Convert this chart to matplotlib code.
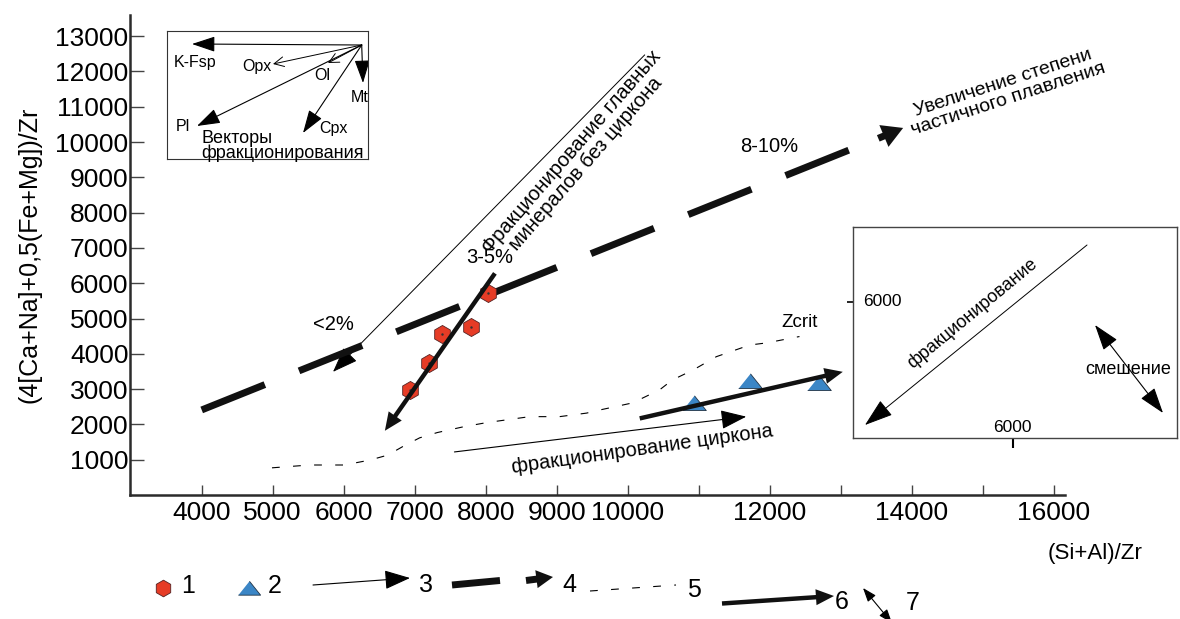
import numpy as np
import matplotlib.pyplot as plt
from matplotlib.patches import FancyArrowPatch

plt.rcParams['font.family'] = ['Liberation Sans', 'DejaVu Sans']

# ---- data ----
red_x = [6930, 7200, 7380, 7800, 8030]
red_y = [2970, 3750, 4560, 4760, 5720]
blue_x = [10940, 11720, 12700]
blue_y = [2620, 3240, 3170]

# Zcrit curve
zcrit_x = [4990, 5520, 6010, 6370, 6620, 6830, 7070, 7320, 7680, 8010, 8620,
           9040, 9420, 9610, 10070, 10450, 10630, 10920, 11250, 11720, 11960, 12420]
zcrit_y = [770, 850, 850, 990, 1130, 1370, 1620, 1770, 1930, 2050, 2220,
           2220, 2320, 2410, 2610, 2980, 3260, 3540, 3920, 4250, 4310, 4490]

# partial melting trend (thick dashed) and its arrow head
melt_x = [4000, 13510]
melt_y = [2410, 10090]
melt_tip = (13880, 10400)

# trend arrows: (start, end)
red_trend = ((8130, 6280), (6580, 1820))
blue_trend = ((10170, 2170), (13030, 3490))
zr_frac = ((7560, 1220), (11670, 2220))
main_frac = ((10240, 12470), (5850, 3490))

x_ticks = np.arange(4000, 16001, 1000)
x_labels = ['4000', '5000', '6000', '7000', '8000', '9000', '10000',
            '', '12000', '', '14000', '', '16000']
y_ticks = np.arange(1000, 13001, 1000)

# fractionation vectors of the small inset (inset pixel units)
vec_origin = (194.7, 14)
vec_names = ['K-Fsp', 'Opx', 'Ol', 'Mt', 'Pl', 'Cpx']
vec_x = [25, 106, 161, 196, 30, 136]
vec_y = [13, 33, 32, 52, 95, 102]
vec_lab_x = [28, 90, 155, 193, 16, 166]
vec_lab_y = [31, 36, 44, 66, 95, 97]

RED = '#e63c26'
BLUE = '#3b86c6'
TRI = [(-1, -0.6), (1, -0.6), (0, 0.65)]


def arrow(a, p0, p1, lw=1.0, hl=0.6, hw=0.25, ms=20, style='-|>', **kw):
    a.add_patch(FancyArrowPatch(p0, p1, arrowstyle=f'{style},head_length={hl},head_width={hw}',
                                mutation_scale=ms, lw=lw, color='k', shrinkA=0, shrinkB=0, **kw))


def fat_arrow(a, p0, p1, tail=0.32, hw=1.15, hl=1.3, **kw):
    a.add_patch(FancyArrowPatch(p0, p1, arrowstyle=f'simple,head_length={hl},head_width={hw},tail_width={tail}',
                                mutation_scale=10, lw=0, color='#111', shrinkA=0, shrinkB=0, **kw))


fig = plt.figure(figsize=(11.8, 6.19), dpi=100)
ax = fig.add_axes([130 / 1180, 124 / 619, 935 / 1180, 480 / 619])
ax.set_xlim(2990, 16160)
ax.set_ylim(0, 13600)
for s in ['top', 'right']:
    ax.spines[s].set_visible(False)
for s in ['left', 'bottom']:
    ax.spines[s].set_linewidth(1.8)
    ax.spines[s].set_color('#2b2b2b')
ax.set_xticks(x_ticks)
ax.set_xticklabels(x_labels)
ax.set_yticks(y_ticks)
ax.tick_params(axis='x', direction='in', length=7, width=1, color='#444', labelsize=19, pad=4)
ax.tick_params(axis='y', direction='in', length=10, width=1, color='#444', labelsize=19, pad=1)

# data points
ax.plot(red_x, red_y, 'h', ms=13, mfc=RED, mec='#552222', mew=0.6, zorder=3)
ax.plot(red_x, red_y, '.', ms=1.5, color='#333', zorder=3)
ax.plot(blue_x, blue_y, marker=TRI, ls='none', ms=17, mfc=BLUE, mec='#223344', mew=0.6, zorder=3)

# Zcrit
ax.plot(zcrit_x, zcrit_y, color='k', lw=0.8, dashes=(7, 12))
ax.text(12420, 4900, 'Zcrit', fontsize=13.5, ha='center', va='center')

# partial melting
ax.plot(melt_x, melt_y, color='#111', lw=5, dashes=(9.8, 5.3), solid_capstyle='butt')
fat_arrow(ax, (melt_x[1] + 20, melt_y[1] + 15), melt_tip, tail=0.5, hw=1.7, hl=1.5, zorder=4)
ax.text(5850, 4820, '<2%', fontsize=14.5, ha='center', va='center')
ax.text(8060, 6720, '3-5%', fontsize=14.5, ha='center', va='center')
ax.text(12000, 9880, '8-10%', fontsize=14.5, ha='center', va='center')
ax.text(15330, 11440, 'Увеличение степени\nчастичного плавления', fontsize=14,
        rotation=18, ha='center', va='center', multialignment='center', linespacing=1.0)

# trend arrows
fat_arrow(ax, *red_trend, zorder=4)
fat_arrow(ax, *blue_trend, zorder=4)
arrow(ax, *zr_frac, lw=0.8, hl=0.8, hw=0.3, ms=20)
arrow(ax, *main_frac, lw=0.7, hl=0.8, hw=0.3, ms=20)
ax.text(10200, 1290, 'фракционирование циркона', fontsize=14.5, rotation=8,
        ha='center', va='center')
ax.text(9310, 9550, 'Фракционирование главных\nминералов без циркона', fontsize=14.5,
        rotation=49, ha='center', va='center', multialignment='center', linespacing=1.0)

fig.text(30 / 1180, 1 - 255 / 619, '(4[Ca+Na]+0,5(Fe+Mg])/Zr', rotation=90,
         fontsize=18, ha='center', va='center')
fig.text(1095 / 1180, 1 - 553 / 619, '(Si+Al)/Zr', fontsize=16, ha='center', va='center')

# ---- inset: fractionation vectors ----
ins = fig.add_axes([167 / 1180, (619 - 159) / 619, 201 / 1180, 128 / 619])
ins.set_xlim(0, 201)
ins.set_ylim(128, 0)
ins.set_xticks([])
ins.set_yticks([])
for s in ins.spines.values():
    s.set_linewidth(0.8)
    s.set_color('#333')
for name, ex, ey, lx, ly in zip(vec_names, vec_x, vec_y, vec_lab_x, vec_lab_y):
    if name in ('Opx', 'Ol'):
        arrow(ins, vec_origin, (ex, ey), lw=0.7, style='->', hl=0.5, hw=0.25, ms=14)
    else:
        arrow(ins, vec_origin, (ex, ey), lw=0.8, hl=0.9, hw=0.3, ms=16)
    ins.text(lx, ly, name, fontsize=11.5, ha='center', va='center')
ins.text(70, 107, 'Векторы', fontsize=13, ha='center', va='center')
ins.text(116, 122, 'фракционирования', fontsize=13, ha='center', va='center')

# ---- inset: fractionation vs mixing ----
ins2 = fig.add_axes([853 / 1180, (619 - 438) / 619, 324 / 1180, 211 / 619])
ins2.set_xlim(0, 324)
ins2.set_ylim(211, 0)
ins2.set_xticks([160])
ins2.set_xticklabels([''])
ins2.set_yticks([74.7])
ins2.set_yticklabels([''])
ins2.tick_params(axis='x', direction='out', length=7, width=1.5)
ins2.tick_params(axis='y', direction='out', length=4, width=1.2)
for s in ins2.spines.values():
    s.set_linewidth(1.0)
    s.set_color('#444')
ins2.text(29, 74.7, '6000', fontsize=12.5, ha='center', va='center')
ins2.text(159, 201, '6000', fontsize=12.5, ha='center', va='center')
arrow(ins2, (234, 18), (12, 198), lw=0.7, hl=0.9, hw=0.3, ms=20)
ins2.text(119, 86, 'фракционирование', fontsize=13, rotation=39.5, ha='center', va='center')
arrow(ins2, (242, 98), (310, 186), lw=0.8, hl=0.9, hw=0.3, ms=18, style='<|-|>')
ins2.text(275, 143, 'смешение', fontsize=13, ha='center', va='center')

# ---- legend row ----
lg = fig.add_axes([0, 0, 1, 62 / 619])
lg.set_xlim(0, 1180)
lg.set_ylim(619, 557)
lg.axis('off')
lg.plot([163], [588], 'h', ms=12, mfc=RED, mec='#552222', mew=0.6)
lg.plot([249], [588], marker=TRI, ls='none', ms=16, mfc=BLUE, mec='#223344', mew=0.6)
arrow(lg, (313, 585), (410, 578), lw=0.8, hl=0.8, hw=0.3, ms=20)
lg.plot([452, 500], [585, 580.5], color='#111', lw=5, solid_capstyle='butt')
fat_arrow(lg, (526, 580.5), (553, 577), tail=0.5, hw=1.3, hl=1.2)
lg.plot([590, 676], [591, 585], color='k', lw=0.8, dashes=(7, 12))
fat_arrow(lg, (722, 603.5), (834, 596))
arrow(lg, (863, 588), (892, 623), lw=0.8, hl=0.6, hw=0.22, ms=14, style='<|-|>')
for num, nx, ny in zip(['1', '2', '3', '4', '5', '6', '7'],
                       [188, 275, 426, 569, 694, 842, 913],
                       [586, 586, 585, 585, 590, 602, 603]):
    lg.text(nx, ny, num, fontsize=18, ha='center', va='center')

fig.savefig('out.png', dpi=100)
